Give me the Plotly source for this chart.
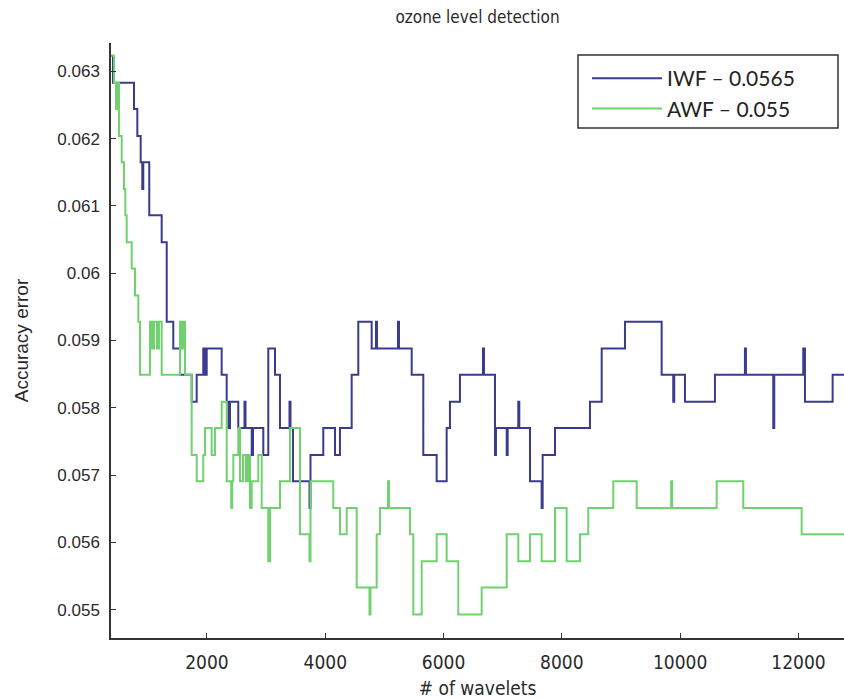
import plotly.graph_objects as go

# ---------------- data ----------------
iwf_x = [380, 411, 766, 822, 879, 906, 923, 1024, 1234, 1319,
         1430, 1544, 1741, 1826, 1937, 1966, 1995, 2248, 2333, 2363,
         2389, 2529, 2634, 2651, 2756, 2778, 2952, 3036, 3150, 3234,
         3395, 3412, 3454, 3733, 3750, 3966, 4164, 4248, 4446, 4558,
         4784, 4857, 4874, 5229, 5246, 5461, 5657, 5883, 6052, 6108,
         6277, 6666, 6683, 6869, 6886, 7067, 7084, 7263, 7280, 7461,
         7658, 7675, 7884, 8475, 8673, 9067, 9687, 9883, 9900, 10081,
         10588, 11095, 11112, 11574, 11591, 12081, 12110, 12578, 12770]
iwf_y = [0.06323, 0.06283, 0.06244, 0.06204, 0.06165, 0.06125, 0.06165, 0.06086, 0.06046, 0.05928,
         0.05888, 0.05849, 0.05809, 0.05849, 0.05888, 0.05849, 0.05888, 0.05849, 0.05809, 0.05770,
         0.05809, 0.05770, 0.05809, 0.05770, 0.05730, 0.05770, 0.05730, 0.05888, 0.05849, 0.05770,
         0.05809, 0.05770, 0.05691, 0.05651, 0.05730, 0.05770, 0.05730, 0.05770, 0.05849, 0.05928,
         0.05888, 0.05928, 0.05888, 0.05928, 0.05888, 0.05849, 0.05730, 0.05691, 0.05770, 0.05809,
         0.05849, 0.05888, 0.05849, 0.05730, 0.05770, 0.05730, 0.05770, 0.05809, 0.05770, 0.05691,
         0.05651, 0.05730, 0.05770, 0.05809, 0.05888, 0.05928, 0.05849, 0.05809, 0.05849, 0.05809,
         0.05849, 0.05888, 0.05849, 0.05770, 0.05849, 0.05888, 0.05809, 0.05849, 0.05849]

awf_x = [380, 428, 462, 487, 512, 558, 597, 619, 642, 727,
         783, 839, 867, 1036, 1070, 1104, 1155, 1188, 1234, 1544,
         1577, 1611, 1628, 1741, 1826, 1937, 1966, 2079, 2135, 2248,
         2333, 2409, 2426, 2445, 2529, 2558, 2609, 2659, 2693, 2727,
         2756, 2867, 2925, 3036, 3065, 3234, 3403, 3572, 3733, 3750,
         4135, 4248, 4362, 4531, 4747, 4764, 4869, 4925, 5060, 5077,
         5432, 5488, 5630, 5883, 6052, 6248, 6644, 7067, 7263, 7461,
         7658, 7884, 8081, 8306, 8446, 8869, 9265, 9848, 9865, 10617,
         11067, 12054, 12770]
awf_y = [0.06323, 0.06283, 0.06244, 0.06283, 0.06204, 0.06165, 0.06125, 0.06086, 0.06046, 0.06007,
         0.05967, 0.05928, 0.05849, 0.05928, 0.05888, 0.05928, 0.05888, 0.05928, 0.05849, 0.05928,
         0.05888, 0.05928, 0.05849, 0.05730, 0.05691, 0.05730, 0.05770, 0.05730, 0.05770, 0.05809,
         0.05691, 0.05651, 0.05691, 0.05730, 0.05770, 0.05691, 0.05730, 0.05691, 0.05730, 0.05651,
         0.05691, 0.05730, 0.05651, 0.05572, 0.05651, 0.05691, 0.05770, 0.05612, 0.05572, 0.05691,
         0.05651, 0.05612, 0.05651, 0.05533, 0.05493, 0.05533, 0.05612, 0.05651, 0.05691, 0.05651,
         0.05612, 0.05493, 0.05572, 0.05612, 0.05572, 0.05493, 0.05533, 0.05612, 0.05572, 0.05612,
         0.05572, 0.05651, 0.05572, 0.05612, 0.05651, 0.05691, 0.05651, 0.05691, 0.05651, 0.05691,
         0.05651, 0.05612, 0.05612]

series_names = ["IWF \u2013 0.0565", "AWF \u2013 0.055"]
x_ticks = [2000, 4000, 6000, 8000, 10000, 12000]
y_ticks = [0.055, 0.056, 0.057, 0.058, 0.059, 0.06, 0.061, 0.062, 0.063]
y_tick_labels = ["0.055", "0.056", "0.057", "0.058", "0.059", "0.06", "0.061", "0.062", "0.063"]

# ---------------- figure ----------------
NARROW = "Liberation Sans Narrow, Arial Narrow, DejaVu Sans Condensed, Liberation Sans, Arial, sans-serif"
REG = "Liberation Sans, Arial, sans-serif"
TXT = "#2a2a2a"

fig = go.Figure()
fig.add_trace(go.Scatter(x=iwf_x, y=iwf_y, mode="lines", line_shape="hv",
                         name=series_names[0], legendgroup="a",
                         line=dict(color="#3b3b8e", width=2)))
fig.add_trace(go.Scatter(x=awf_x, y=awf_y, mode="lines", line_shape="hv",
                         name=series_names[1], legendgroup="b",
                         line=dict(color="#6fd26f", width=2)))

W, H = 844, 699
L, R, T, B = 111, 0, 43, 61
pw, ph = W - L - R, H - T - B


def px_x(p):
    return (p - L) / pw


def px_y(p):
    return (H - B - p) / ph


# legend frame (decoration)
fig.add_shape(type="rect", xref="paper", yref="paper",
              x0=px_x(578), x1=px_x(838), y0=px_y(128), y1=px_y(55),
              line=dict(color="#333333", width=1.5), fillcolor="white", layer="above")

fig.update_layout(
    width=W, height=H,
    margin=dict(l=L, r=R, t=T, b=B, pad=0),
    paper_bgcolor="white", plot_bgcolor="white",
    title=dict(text="ozone level detection", x=(L + pw / 2) / W, xref="container",
               xanchor="center", y=1 - 17 / H, yref="container", yanchor="middle",
               font=dict(family=NARROW, size=17, color=TXT)),
    showlegend=True,
    legend=dict(x=px_x(587), y=px_y(58), xanchor="left", yanchor="top",
                bgcolor="rgba(0,0,0,0)", borderwidth=0,
                font=dict(family="Lato, Open Sans, sans-serif", size=21, color="#222222"),
                itemwidth=70, tracegroupgap=1, traceorder="normal"),
    xaxis=dict(range=[377, 12770], tickvals=x_ticks, ticktext=[str(v) for v in x_ticks],
               showgrid=False, zeroline=False, showline=True, linecolor="#333333", linewidth=1.5,
               ticks="inside", ticklen=5, tickwidth=1, tickcolor="#333333",
               ticklabelstandoff=6,
               tickfont=dict(family=NARROW, size=19, color=TXT),
               title=dict(text="# of wavelets", standoff=10,
                          font=dict(family=NARROW, size=19, color=TXT))),
    yaxis=dict(range=[0.05458, 0.06342], tickvals=y_ticks, ticktext=y_tick_labels,
               showgrid=False, zeroline=False, showline=True, linecolor="#333333", linewidth=1.5,
               ticks="inside", ticklen=5, tickwidth=1, tickcolor="#333333",
               ticklabelstandoff=6,
               tickfont=dict(family=REG, size=17, color=TXT),
               title=dict(text="Accuracy error", standoff=24,
                          font=dict(family=REG, size=19, color=TXT))),
)

fig.write_html("out.html")
